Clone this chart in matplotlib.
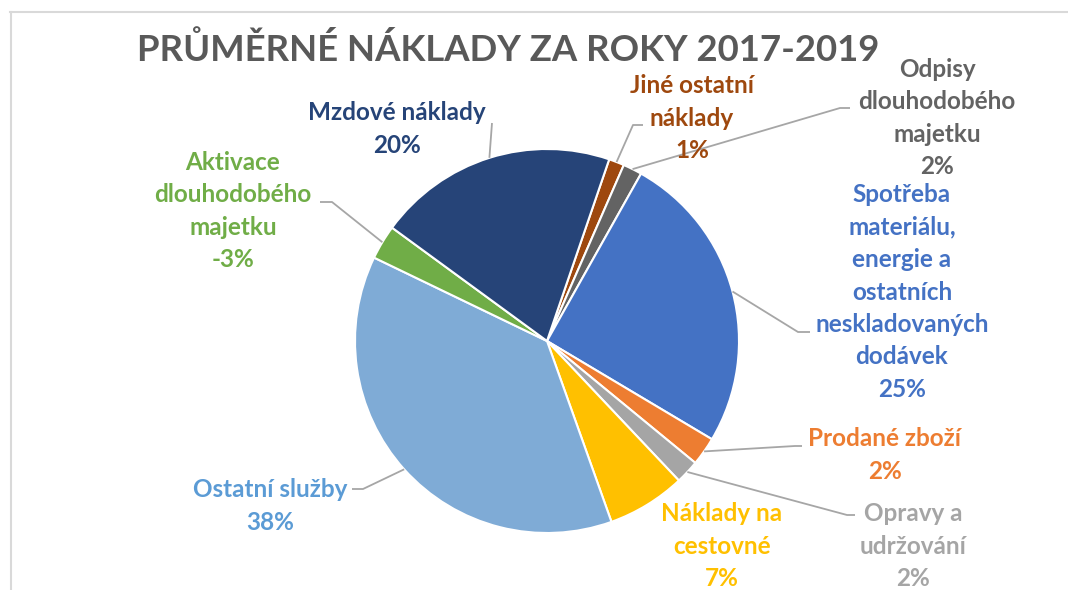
import numpy as np
import matplotlib
matplotlib.use('Agg')
import matplotlib.pyplot as plt
from matplotlib.lines import Line2D

# === DATEN ===
# Reihenfolge im Uhrzeigersinn, beginnend bei "Jiné ostatní náklady"
KATEGORIEN = [
    'Jiné ostatní\nnáklady',
    'Odpisy\ndlouhodobého\nmajetku',
    'Spotřeba\nmateriálu,\nenergie a\nostatních\nneskladovaných\ndodávek',
    'Prodané zboží',
    'Opravy a\nudržování',
    'Náklady na\ncestovné',
    'Ostatní služby',
    'Aktivace\ndlouhodobého\nmajetku',
    'Mzdové náklady',
]
PODILY = [1.3, 1.6, 25.4, 2.4, 2.0, 6.6, 37.6, -2.9, 20.2]

BARVY = ['#9E480E', '#636363', '#4472C4', '#ED7D31', '#A5A5A5',
         '#FFC000', '#7FABD6', '#70AD47', '#264478']
BARVY_TEXT = ['#9E480E', '#636363', '#4472C4', '#ED7D31', '#A5A5A5',
              '#FFC000', '#5B9BD5', '#70AD47', '#264478']

# === LAYOUT (Pixel, y von oben) ===
W, H = 1068, 590
STRED = (547, 341)
POLOMER = 192
START = 18.9  # Grad im Uhrzeigersinn ab 12 Uhr

# Label-Mitte und Knick der Führungslinie (None = keine Linie)
LABEL_POS = [(692, 118), (937, 118), (902, 292), (885, 455), (913, 546),
             (722, 546), (270, 506), (233, 211), (397, 129)]
KNICK = [((633, 125), (643, 125)),
         ((840, 108), (850, 108)),
         ((798, 332), (810, 332)),
         ((795, 446), (802, 446)),
         ((847, 515), (855, 515)),
         None,
         ((363, 489), (352, 489)),
         ((332, 202), (320, 202)),
         ((492, 123), (492, 123))]

FONT = ['Lato', 'DejaVu Sans']


def fy(y):
    return H - y


fig = plt.figure(figsize=(W / 100, H / 100), dpi=100)
ax = fig.add_axes([0, 0, 1, 1])

hodnoty = np.abs(PODILY)
ax.pie(hodnoty, colors=BARVY, startangle=90 - START, counterclock=False,
       center=(STRED[0], fy(STRED[1])), radius=POLOMER,
       wedgeprops=dict(edgecolor='white', linewidth=1.5))

ax.set_xlim(0, W)
ax.set_ylim(0, H)
ax.set_aspect('equal')
ax.axis('off')

# Führungslinien ab Mitte des Segments
kum = np.cumsum(hodnoty) - hodnoty / 2
for i, (pct, text) in enumerate(zip(PODILY, KATEGORIEN)):
    uhel = np.radians(START + kum[i] / hodnoty.sum() * 360)
    px = STRED[0] + POLOMER * np.sin(uhel)
    py = STRED[1] - POLOMER * np.cos(uhel)
    if KNICK[i] is not None:
        (kx, ky), (ex, ey) = KNICK[i]
        ax.plot([px, kx, ex], [fy(py), fy(ky), fy(ey)], color='#A6A6A6',
                lw=1.3, solid_capstyle='butt', zorder=1)
    lx, ly = LABEL_POS[i]
    ax.text(lx, fy(ly), f'{text}\n{round(pct)}%', ha='center', va='center',
            multialignment='center', fontsize=17.5, fontweight='bold',
            color=BARVY_TEXT[i], family=FONT, linespacing=1.5)

# Titel
ax.text(508, fy(50), 'PRŮMĚRNÉ NÁKLADY ZA ROKY 2017-2019', ha='center',
        va='center', fontsize=26.3, fontweight='bold', color='#595959',
        family=FONT)

# Rahmen (nur links und oben sichtbar)
fig.add_artist(Line2D([10.5 / W, 10.5 / W], [0, 1 - 12 / H],
                      transform=fig.transFigure, color='#D9D9D9', lw=1.5))
fig.add_artist(Line2D([10 / W, 1], [1 - 12 / H, 1 - 12 / H],
                      transform=fig.transFigure, color='#D9D9D9', lw=1.5))

fig.savefig('out.png', dpi=100)
